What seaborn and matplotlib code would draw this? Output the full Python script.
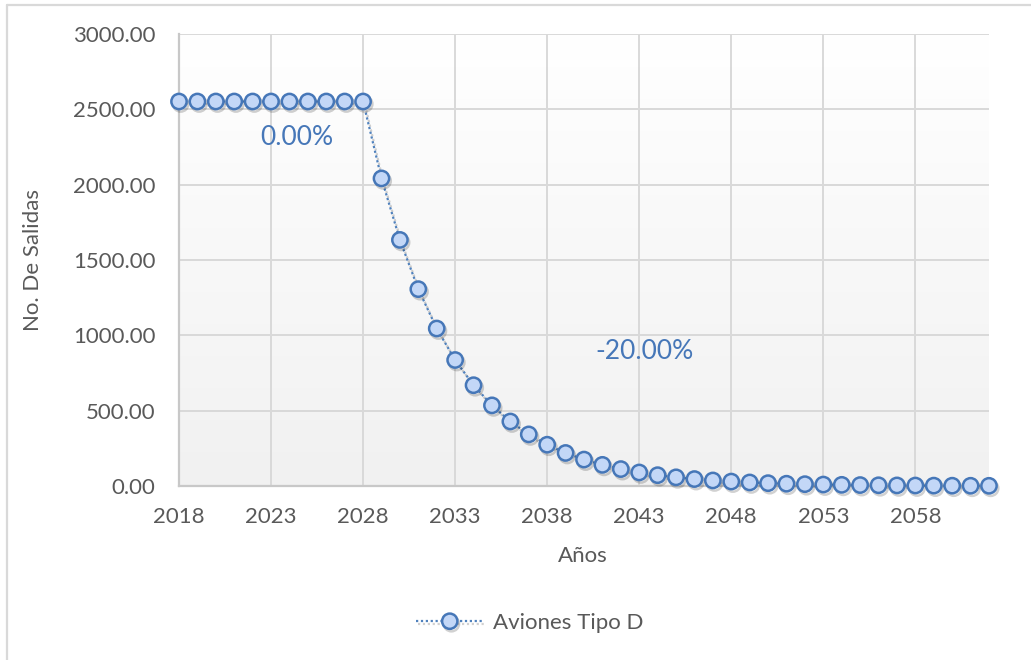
import numpy as np
import pandas as pd
import matplotlib
matplotlib.use("Agg")
import matplotlib.pyplot as plt
import matplotlib.patheffects as pe
from matplotlib.lines import Line2D
from matplotlib.ticker import FuncFormatter, MultipleLocator
import seaborn as sns

# Annual departures, aircraft type D
years = list(range(2018, 2063))
salidas = [
    2552.0, 2552.0, 2552.0, 2552.0, 2552.0, 2552.0, 2552.0, 2552.0, 2552.0, 2552.0, 2552.0,
    2041.6, 1633.3, 1306.6, 1045.3, 836.2, 669.0, 535.2, 428.2, 342.5, 274.0,
    219.2, 175.4, 140.3, 112.2, 89.8, 71.8, 57.5, 46.0, 36.8, 29.4,
    23.5, 18.8, 15.1, 12.1, 9.6, 7.7, 6.2, 4.9, 3.9, 3.2,
    2.5, 2.0, 1.6, 1.3,
]
serie = "Aviones Tipo D"
tasa_labels = ["0.00%", "-20.00%"]
tasa_pos = [(2024.4, 2310), (2043.3, 890)]

df = pd.DataFrame({"Años": years, "Salidas": salidas, "Serie": serie})

sns.set_theme(style="white")
plt.rcParams["font.family"] = ["Lato", "DejaVu Sans"]

LINE = "#4f81bd"
EDGE = "#4677b8"
FILL = "#c3d7f7"
TXT = "#595959"
GRID = "#d9d9d9"

fig = plt.figure(figsize=(10.31, 6.60), dpi=100)
ax = fig.add_axes([179 / 1031, 1 - 486 / 660, 810 / 1031, 452 / 660])

# soft vertical gradient in the plot area
grad = np.linspace(1.0, 0.945, 256).reshape(-1, 1)
ax.imshow(np.dstack([grad, grad, grad]), extent=[2018, 2062, 0, 3000],
          aspect="auto", origin="upper", zorder=0)

sns.lineplot(data=df, x="Años", y="Salidas", hue="Serie", palette=[LINE],
             ax=ax, linestyle=(0, (1, 1.2)), linewidth=1.6, marker="o",
             markersize=11, markerfacecolor=FILL, markeredgecolor=EDGE,
             markeredgewidth=1.8, zorder=5, legend=True, clip_on=False)
for ln in ax.get_lines():
    ln.set_path_effects([pe.SimpleLineShadow(offset=(1.2, -1.8), shadow_color="#000000", alpha=0.18),
                         pe.Normal()])

ax.set_xlim(2018, 2062)
ax.set_ylim(0, 3000)
ax.xaxis.set_major_locator(MultipleLocator(5))
ax.yaxis.set_major_locator(MultipleLocator(500))
ax.yaxis.set_major_formatter(FuncFormatter(lambda v, p: f"{v:.2f}"))
ax.set_xticks(range(2018, 2059, 5))

ax.grid(True, color=GRID, linewidth=1.4, zorder=1)
ax.set_axisbelow(True)
for s in ["top", "right"]:
    ax.spines[s].set_visible(False)
for s in ["left", "bottom"]:
    ax.spines[s].set_color("#c8c8c8")
    ax.spines[s].set_linewidth(1.6)

ax.tick_params(axis="both", length=0, labelsize=16, labelcolor=TXT)
ax.tick_params(axis="y", pad=17)
ax.tick_params(axis="x", pad=15)
ax.set_xlabel("Años", fontsize=16, color=TXT)
ax.set_ylabel("No. De Salidas", fontsize=16, color=TXT)
ax.xaxis.set_label_coords((583 - 179) / 810, -(556 - 486) / 452)
ax.yaxis.set_label_coords(-(179 - 33) / 810, 0.5)
ax.xaxis.label.set_va("center")
ax.yaxis.label.set_va("center")

for lab, (x, y) in zip(tasa_labels, tasa_pos):
    ax.text(x, y, lab, fontsize=19, color=EDGE, ha="center", va="center", zorder=6)

leg = ax.legend(loc="center", bbox_to_anchor=((530 - 179) / 810, -(623 - 486) / 452),
                frameon=False, fontsize=16, handlelength=3.0, labelcolor=TXT,
                handletextpad=0.45)
for h in leg.legend_handles:
    h.set_markerfacecolor(FILL)
    h.set_markeredgecolor(EDGE)
    h.set_markeredgewidth(1.8)
    h.set_markersize(11)
    h.set_linestyle((0, (1, 1.2)))
    h.set_color(LINE)

# chart frame
fig.add_artist(Line2D([7 / 1031, 7 / 1031], [0, 1 - 5 / 660], color="#d9d9d9", lw=1.6))
fig.add_artist(Line2D([7 / 1031, 1.0], [1 - 5 / 660, 1 - 5 / 660], color="#d9d9d9", lw=1.6))

fig.savefig("out.png", dpi=100)
